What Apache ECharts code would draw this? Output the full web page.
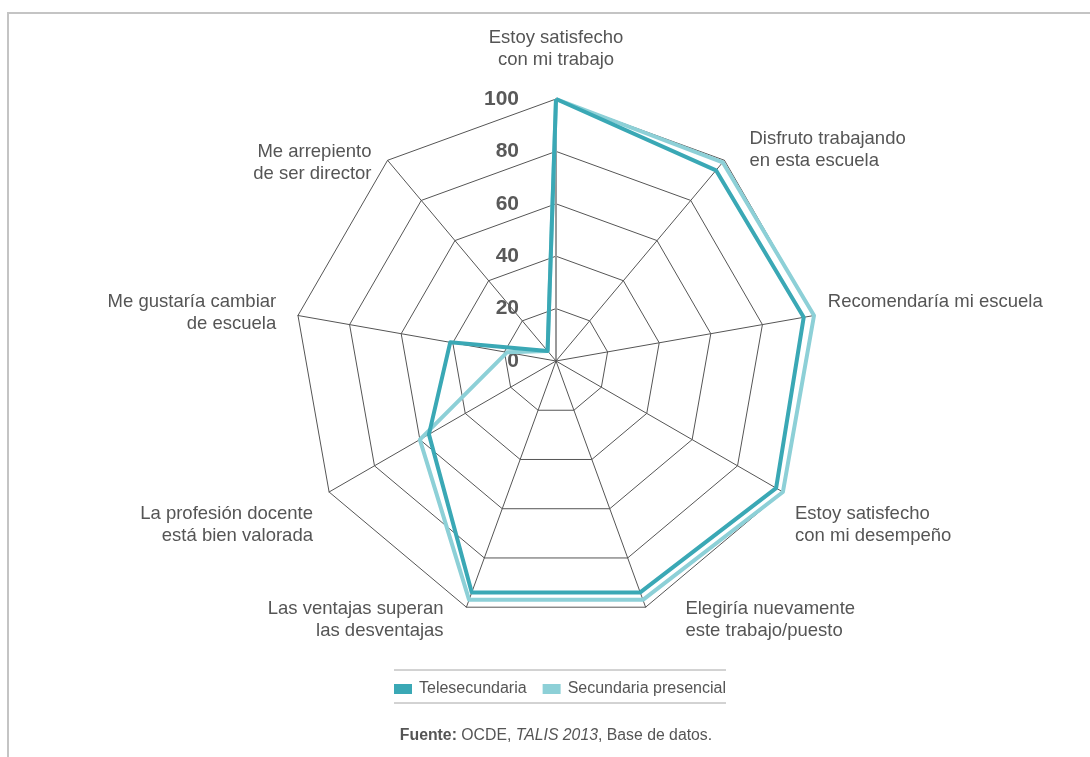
<!DOCTYPE html>
<html>
<head>
<meta charset="utf-8">
<script src="https://cdn.jsdelivr.net/npm/echarts@6/dist/echarts.min.js"></script>
<style>
  html, body { margin: 0; padding: 0; background: #fff; }
  #main { width: 1090px; height: 757px; }
</style>
</head>
<body>
<div id="main"></div>
<script>
// indicators, clockwise from the top
const categories = [
  'Estoy satisfecho\ncon mi trabajo',
  'Disfruto trabajando\nen esta escuela',
  'Recomendaría mi escuela',
  'Estoy satisfecho\ncon mi desempeño',
  'Elegiría nuevamente\neste trabajo/puesto',
  'Las ventajas superan\nlas desventajas',
  'La profesión docente\nestá bien valorada',
  'Me gustaría cambiar\nde escuela',
  'Me arrepiento\nde ser director'
];
const telesecundaria = [100, 95, 96, 97, 94, 94, 56, 41, 5];
const presencial = [100, 99, 100, 100, 97, 97, 60, 19, 5];
const seriesNames = ['Telesecundaria', 'Secundaria presencial'];
const colors = ['#3aa8b5', '#8dd0d7'];

// label placement tweaks per axis name (same order as categories)
const nameGaps = [28, 14, 14, 14, 14, 14, 14, 14, 25];
const nameVAlign = [null, null, 'bottom', 'top', null, null, 'top', null, 'top'];
const namePadding = [
  [0, 0, 0, 0],
  [0, 0, 0, 16],
  [0, 0, 0, 0],
  [4, 0, 0, 0],
  [0, 0, 0, 35],
  [0, 18, 0, 0],
  [4, 4, 0, 0],
  [0, 8, 0, 0],
  [0, 0, 0, 0]
];

// echarts draws radar counter-clockwise, so keep first item and reverse the rest
function clockwise(arr) {
  return [arr[0]].concat(arr.slice(1).reverse());
}

const chart = echarts.init(document.getElementById('main'), null, { renderer: 'canvas' });

const pads = clockwise(namePadding);
const gaps = clockwise(nameGaps);
const valigns = clockwise(nameVAlign);
const indicator = clockwise(categories).map((name, i) => {
  const ind = {
    name: name, max: 100, min: 0,
    nameGap: gaps[i],
    nameTextStyle: { padding: pads[i] }
  };
  if (valigns[i]) ind.nameTextStyle.verticalAlign = valigns[i];
  if (i === 0) {
    ind.axisLabel = {
      show: true,
      fontSize: 21,
      fontWeight: 'bold',
      color: '#595959',
      fontFamily: 'Liberation Sans',
      margin: 37
    };
    ind.axisLine = { lineStyle: { color: '#999', width: 2 } };
  }
  return ind;
});

const option = {
  animation: false,
  color: colors,
  title: {
    text: '{b|Fuente:} OCDE, {i|TALIS 2013}, Base de datos.',
    left: 551,
    textAlign: 'center',
    top: 723,
    textStyle: {
      fontSize: 15.8,
      fontWeight: 'normal',
      color: '#555',
      fontFamily: 'Liberation Sans',
      rich: {
        b: { fontSize: 15.8, fontWeight: 'bold', color: '#555', fontFamily: 'Liberation Sans' },
        i: { fontSize: 15.8, fontStyle: 'italic', color: '#555', fontFamily: 'Liberation Sans' }
      }
    }
  },
  legend: {
    data: seriesNames,
    top: 676,
    left: 389,
    itemWidth: 18,
    itemHeight: 10,
    itemGap: 16,
    icon: 'rect',
    textStyle: { fontSize: 16, color: '#555', fontFamily: 'Liberation Sans', padding: [0, 0, 0, 2] }
  },
  graphic: [
    { type: 'rect', shape: { x: 8, y: 13, width: 1200, height: 900 },
      style: { fill: 'none', stroke: '#c4c4c4', lineWidth: 2 }, silent: true },
    { type: 'line', shape: { x1: 394, y1: 670, x2: 726, y2: 670 },
      style: { stroke: '#a6a6a6', lineWidth: 1 }, silent: true },
    { type: 'line', shape: { x1: 394, y1: 703, x2: 726, y2: 703 },
      style: { stroke: '#a6a6a6', lineWidth: 1 }, silent: true }
  ],
  radar: {
    center: [556, 361],
    radius: 262,
    startAngle: 90,
    splitNumber: 5,
    shape: 'polygon',
    indicator: indicator,
    axisName: {
      color: '#555',
      fontSize: 18.5,
      fontFamily: 'Liberation Sans',
      lineHeight: 22
    },
    nameGap: 14,
    axisLine: { lineStyle: { color: '#555', width: 1 } },
    splitLine: { lineStyle: { color: '#555', width: 1 } },
    splitArea: { show: false },
    axisTick: { show: false },
    axisLabel: { show: false }
  },
  series: [{
    type: 'radar',
    symbol: 'none',
    data: [
      {
        name: seriesNames[1],
        value: clockwise(presencial),
        lineStyle: { color: colors[1], width: 4 },
        itemStyle: { color: colors[1] }
      },
      {
        name: seriesNames[0],
        value: clockwise(telesecundaria),
        lineStyle: { color: colors[0], width: 4 },
        itemStyle: { color: colors[0] }
      }
    ]
  }]
};

chart.setOption(option);
</script>
</body>
</html>
